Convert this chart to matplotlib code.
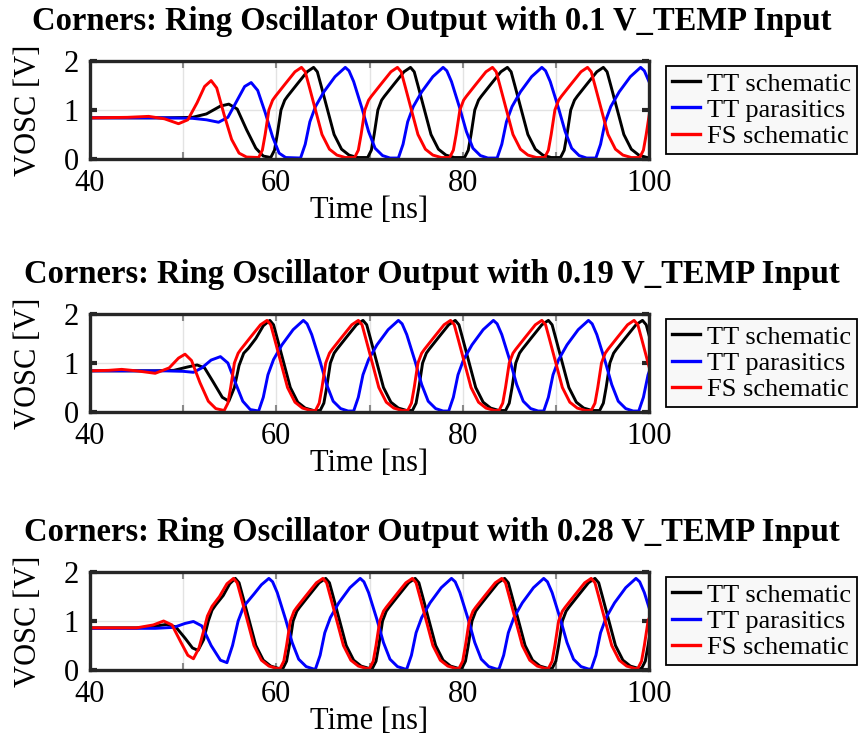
import numpy as np
import matplotlib.pyplot as plt

plt.rcParams["font.family"] = ["Liberation Serif", "DejaVu Serif"]

v_temp_inputs = ["0.1", "0.19", "0.28"]
series_labels = ["TT schematic", "TT parasitics", "FS schematic"]
series_colors = ["black", "blue", "red"]
x_ticks = [40, 50, 60, 70, 80, 90, 100]
x_tick_labels = ["40", "", "60", "", "80", "", "100"]
y_ticks = [0, 1, 2]

# (time [ns], VOSC [V])

# 0.1 V_TEMP
p1_tt_schematic = [
    (40.0, 0.84), (48.0, 0.84), (51.0, 0.85), (52.5, 0.92), (54.0, 1.08), (54.9, 1.12), (55.8, 1.02),
    (56.8, 0.60), (57.8, 0.22), (58.6, 0.06),
    (59.4, 0.03), (59.8, 0.18), (60.1, 0.5), (60.5, 1.0), (60.9, 1.2), (61.2, 1.28), (62.2, 1.52), (63.3, 1.78),
    (64.0, 1.87), (64.4, 1.78), (64.8, 1.5), (65.5, 1.0), (66.2, 0.5), (67.0, 0.2), (67.8, 0.08), (68.7, 0.03),
    (69.8, 0.03), (70.2, 0.18), (70.5, 0.5), (70.9, 1.0), (71.3, 1.2), (71.6, 1.28), (72.6, 1.52), (73.7, 1.78),
    (74.4, 1.87), (74.8, 1.78), (75.2, 1.5), (75.9, 1.0), (76.6, 0.5), (77.4, 0.2), (78.2, 0.08), (79.1, 0.03),
    (80.2, 0.03), (80.6, 0.18), (80.9, 0.5), (81.3, 1.0), (81.7, 1.2), (82.0, 1.28), (83.0, 1.52), (84.1, 1.78),
    (84.8, 1.87), (85.2, 1.78), (85.6, 1.5), (86.3, 1.0), (87.0, 0.5), (87.8, 0.2), (88.6, 0.08), (89.5, 0.03),
    (90.5, 0.03), (90.9, 0.18), (91.2, 0.5), (91.6, 1.0), (92.0, 1.2), (92.3, 1.28), (93.3, 1.52), (94.4, 1.78),
    (95.1, 1.87), (95.5, 1.78), (95.9, 1.5), (96.6, 1.0), (97.3, 0.5), (98.1, 0.2), (98.9, 0.08), (99.8, 0.03),
    (100.0, 0.03),
]
p1_tt_parasitics = [
    (40.0, 0.84), (48.0, 0.84), (51.0, 0.83), (52.5, 0.80), (53.8, 0.75), (54.8, 0.85), (55.8, 1.2),
    (56.6, 1.48), (57.3, 1.56), (58.0, 1.4), (58.8, 0.95), (59.6, 0.45), (60.3, 0.12), (61.0, 0.03),
    (62.6, 0.02), (63.1, 0.3), (63.6, 0.76), (64.2, 1.07), (65.1, 1.37), (66.3, 1.68), (67.4, 1.87),
    (67.8, 1.8), (68.3, 1.58), (69.2, 1.03), (69.9, 0.56), (70.6, 0.22), (71.4, 0.07), (72.2, 0.02),
    (73.1, 0.02), (73.6, 0.3), (74.1, 0.76), (74.7, 1.07), (75.6, 1.37), (76.8, 1.68), (77.9, 1.87),
    (78.3, 1.8), (78.8, 1.58), (79.7, 1.03), (80.4, 0.56), (81.1, 0.22), (81.9, 0.07), (82.7, 0.02),
    (83.7, 0.02), (84.2, 0.3), (84.7, 0.76), (85.3, 1.07), (86.2, 1.37), (87.4, 1.68), (88.5, 1.87),
    (88.9, 1.8), (89.4, 1.58), (90.3, 1.03), (91.0, 0.56), (91.7, 0.22), (92.5, 0.07), (93.3, 0.02),
    (94.3, 0.02), (94.8, 0.3), (95.3, 0.76), (95.9, 1.07), (96.8, 1.37), (98.0, 1.68), (99.1, 1.87),
    (99.5, 1.8), (100.0, 1.58),
]
p1_fs_schematic = [
    (40.0, 0.84), (44.0, 0.85), (46.3, 0.87), (48.0, 0.82), (49.5, 0.72), (50.5, 0.80), (51.5, 1.15),
    (52.3, 1.48), (53.0, 1.60), (53.6, 1.45), (54.4, 0.90), (55.2, 0.40), (56.0, 0.12), (56.8, 0.04),
    (58.1, 0.03), (58.5, 0.18), (58.8, 0.5), (59.2, 1.0), (59.6, 1.2), (59.9, 1.28), (60.9, 1.52), (62.0, 1.78),
    (62.7, 1.87), (63.1, 1.78), (63.5, 1.5), (64.2, 1.0), (64.9, 0.5), (65.7, 0.2), (66.5, 0.08), (67.4, 0.03),
    (68.4, 0.03), (68.8, 0.18), (69.1, 0.5), (69.5, 1.0), (69.9, 1.2), (70.2, 1.28), (71.2, 1.52), (72.3, 1.78),
    (73.0, 1.87), (73.4, 1.78), (73.8, 1.5), (74.5, 1.0), (75.2, 0.5), (76.0, 0.2), (76.8, 0.08), (77.7, 0.03),
    (78.6, 0.03), (79.0, 0.18), (79.3, 0.5), (79.7, 1.0), (80.1, 1.2), (80.4, 1.28), (81.4, 1.52), (82.5, 1.78),
    (83.2, 1.87), (83.6, 1.78), (84.0, 1.5), (84.7, 1.0), (85.4, 0.5), (86.2, 0.2), (87.0, 0.08), (87.9, 0.03),
    (88.8, 0.03), (89.2, 0.18), (89.5, 0.5), (89.9, 1.0), (90.3, 1.2), (90.6, 1.28), (91.6, 1.52), (92.7, 1.78),
    (93.4, 1.87), (93.8, 1.78), (94.2, 1.5), (94.9, 1.0), (95.6, 0.5), (96.4, 0.2), (97.2, 0.08), (98.1, 0.03),
    (99.0, 0.03), (99.4, 0.18), (99.7, 0.5), (100.1, 1.0),
]

# 0.19 V_TEMP
p2_tt_schematic = [
    (40.0, 0.84), (47.0, 0.84), (49.0, 0.85), (50.5, 0.92), (51.5, 0.96), (52.3, 0.90), (53.2, 0.62),
    (54.2, 0.30), (54.9, 0.22), (55.5, 0.5), (56.0, 0.95), (56.5, 1.2), (57.0, 1.3), (57.8, 1.5), (58.6, 1.76),
    (59.3, 1.87), (59.7, 1.78), (60.1, 1.5), (60.8, 1.0), (61.5, 0.5), (62.3, 0.2), (63.1, 0.08), (64.0, 0.03),
    (64.7, 0.03), (65.1, 0.18), (65.4, 0.5), (65.8, 1.0), (66.2, 1.2), (66.5, 1.28), (67.5, 1.52), (68.6, 1.78),
    (69.3, 1.87), (69.7, 1.78), (70.1, 1.5), (70.8, 1.0), (71.5, 0.5), (72.3, 0.2), (73.1, 0.08), (74.0, 0.03),
    (74.6, 0.03), (75.0, 0.18), (75.3, 0.5), (75.7, 1.0), (76.1, 1.2), (76.4, 1.28), (77.4, 1.52), (78.5, 1.78),
    (79.2, 1.87), (79.6, 1.78), (80.0, 1.5), (80.7, 1.0), (81.4, 0.5), (82.2, 0.2), (83.0, 0.08), (83.9, 0.03),
    (84.6, 0.03), (85.0, 0.18), (85.3, 0.5), (85.7, 1.0), (86.1, 1.2), (86.4, 1.28), (87.4, 1.52), (88.5, 1.78),
    (89.2, 1.87), (89.6, 1.78), (90.0, 1.5), (90.7, 1.0), (91.4, 0.5), (92.2, 0.2), (93.0, 0.08), (93.9, 0.03),
    (94.7, 0.03), (95.1, 0.18), (95.4, 0.5), (95.8, 1.0), (96.2, 1.2), (96.5, 1.28), (97.5, 1.52), (98.6, 1.78),
    (99.3, 1.87), (99.7, 1.78), (100.1, 1.5),
]
p2_tt_parasitics = [
    (40.0, 0.84), (48.0, 0.84), (50.0, 0.83), (51.1, 0.81), (52.0, 0.90), (53.0, 1.06), (54.0, 1.13),
    (54.8, 1.00), (55.6, 0.60), (56.4, 0.22), (57.2, 0.05),
    (58.1, 0.02), (58.6, 0.3), (59.1, 0.76), (59.7, 1.07), (60.6, 1.37), (61.8, 1.68), (62.9, 1.87),
    (63.3, 1.8), (63.8, 1.58), (64.7, 1.03), (65.4, 0.56), (66.1, 0.22), (66.9, 0.07), (67.7, 0.02),
    (68.3, 0.02), (68.8, 0.3), (69.3, 0.76), (69.9, 1.07), (70.8, 1.37), (72.0, 1.68), (73.1, 1.87),
    (73.5, 1.8), (74.0, 1.58), (74.9, 1.03), (75.6, 0.56), (76.3, 0.22), (77.1, 0.07), (77.9, 0.02),
    (78.5, 0.02), (79.0, 0.3), (79.5, 0.76), (80.1, 1.07), (81.0, 1.37), (82.2, 1.68), (83.3, 1.87),
    (83.7, 1.8), (84.2, 1.58), (85.1, 1.03), (85.8, 0.56), (86.5, 0.22), (87.3, 0.07), (88.1, 0.02),
    (88.7, 0.02), (89.2, 0.3), (89.7, 0.76), (90.3, 1.07), (91.2, 1.37), (92.4, 1.68), (93.5, 1.87),
    (93.9, 1.8), (94.4, 1.58), (95.3, 1.03), (96.0, 0.56), (96.7, 0.22), (97.5, 0.07), (98.3, 0.02),
    (98.9, 0.02), (99.4, 0.3), (99.9, 0.76), (100.5, 1.07),
]
p2_fs_schematic = [
    (40.0, 0.84), (42.0, 0.85), (43.4, 0.87), (45.0, 0.84), (47.0, 0.79), (48.5, 0.90), (49.5, 1.10),
    (50.2, 1.18), (50.9, 1.05), (51.8, 0.60), (52.7, 0.22), (53.5, 0.07),
    (54.4, 0.03), (54.8, 0.18), (55.1, 0.5), (55.5, 1.0), (55.9, 1.2), (56.2, 1.28), (57.2, 1.52), (58.3, 1.78),
    (59.0, 1.87), (59.4, 1.78), (59.8, 1.5), (60.5, 1.0), (61.2, 0.5), (62.0, 0.2), (62.8, 0.08), (63.7, 0.03),
    (64.2, 0.03), (64.6, 0.18), (64.9, 0.5), (65.3, 1.0), (65.7, 1.2), (66.0, 1.28), (67.0, 1.52), (68.1, 1.78),
    (68.8, 1.87), (69.2, 1.78), (69.6, 1.5), (70.3, 1.0), (71.0, 0.5), (71.8, 0.2), (72.6, 0.08), (73.5, 0.03),
    (74.1, 0.03), (74.5, 0.18), (74.8, 0.5), (75.2, 1.0), (75.6, 1.2), (75.9, 1.28), (76.9, 1.52), (78.0, 1.78),
    (78.7, 1.87), (79.1, 1.78), (79.5, 1.5), (80.2, 1.0), (80.9, 0.5), (81.7, 0.2), (82.5, 0.08), (83.4, 0.03),
    (83.9, 0.03), (84.3, 0.18), (84.6, 0.5), (85.0, 1.0), (85.4, 1.2), (85.7, 1.28), (86.7, 1.52), (87.8, 1.78),
    (88.5, 1.87), (88.9, 1.78), (89.3, 1.5), (90.0, 1.0), (90.7, 0.5), (91.5, 0.2), (92.3, 0.08), (93.2, 0.03),
    (93.8, 0.03), (94.2, 0.18), (94.5, 0.5), (94.9, 1.0), (95.3, 1.2), (95.6, 1.28), (96.6, 1.52), (97.7, 1.78),
    (98.4, 1.87), (98.8, 1.78), (99.2, 1.5), (99.9, 1.0), (100.6, 0.5),
]

# 0.28 V_TEMP
p3_tt_schematic = [
    (40.0, 0.86), (45.0, 0.86), (46.5, 0.88), (48.2, 0.93), (49.2, 0.88), (50.2, 0.65), (51.0, 0.45),
    (51.6, 0.40), (52.2, 0.62), (52.7, 1.0), (53.1, 1.22), (53.5, 1.33), (54.3, 1.52), (55.0, 1.76),
    (55.6, 1.87), (56.0, 1.78), (56.4, 1.5), (57.1, 1.0), (57.8, 0.5), (58.6, 0.2), (59.4, 0.08), (60.3, 0.03),
    (60.7, 0.03), (61.1, 0.18), (61.4, 0.5), (61.8, 1.0), (62.2, 1.2), (62.5, 1.28), (63.5, 1.52), (64.6, 1.78),
    (65.3, 1.87), (65.7, 1.78), (66.1, 1.5), (66.8, 1.0), (67.5, 0.5), (68.3, 0.2), (69.1, 0.08), (70.0, 0.03),
    (70.3, 0.03), (70.7, 0.18), (71.0, 0.5), (71.4, 1.0), (71.8, 1.2), (72.1, 1.28), (73.1, 1.52), (74.2, 1.78),
    (74.9, 1.87), (75.3, 1.78), (75.7, 1.5), (76.4, 1.0), (77.1, 0.5), (77.9, 0.2), (78.7, 0.08), (79.6, 0.03),
    (79.9, 0.03), (80.3, 0.18), (80.6, 0.5), (81.0, 1.0), (81.4, 1.2), (81.7, 1.28), (82.7, 1.52), (83.8, 1.78),
    (84.5, 1.87), (84.9, 1.78), (85.3, 1.5), (86.0, 1.0), (86.7, 0.5), (87.5, 0.2), (88.3, 0.08), (89.2, 0.03),
    (89.6, 0.03), (90.0, 0.18), (90.3, 0.5), (90.7, 1.0), (91.1, 1.2), (91.4, 1.28), (92.4, 1.52), (93.5, 1.78),
    (94.2, 1.87), (94.6, 1.78), (95.0, 1.5), (95.7, 1.0), (96.4, 0.5), (97.2, 0.2), (98.0, 0.08), (98.9, 0.03),
    (99.2, 0.03), (99.6, 0.18), (99.9, 0.5), (100.3, 1.0),
]
p3_tt_parasitics = [
    (40.0, 0.85), (47.0, 0.85), (49.0, 0.87), (50.2, 0.95), (51.1, 0.99), (52.0, 0.90), (53.0, 0.50),
    (54.0, 0.20), (54.7, 0.15), (55.3, 0.5), (55.9, 1.0), (56.5, 1.3), (57.6, 1.55), (58.4, 1.74),
    (59.2, 1.87), (59.6, 1.8), (60.1, 1.58), (61.0, 1.03), (61.7, 0.56), (62.4, 0.22), (63.2, 0.07), (64.0, 0.02),
    (64.2, 0.02), (64.7, 0.3), (65.2, 0.76), (65.8, 1.07), (66.7, 1.37), (67.9, 1.68), (69.0, 1.87),
    (69.4, 1.8), (69.9, 1.58), (70.8, 1.03), (71.5, 0.56), (72.2, 0.22), (73.0, 0.07), (73.8, 0.02),
    (74.0, 0.02), (74.5, 0.3), (75.0, 0.76), (75.6, 1.07), (76.5, 1.37), (77.7, 1.68), (78.8, 1.87),
    (79.2, 1.8), (79.7, 1.58), (80.6, 1.03), (81.3, 0.56), (82.0, 0.22), (82.8, 0.07), (83.6, 0.02),
    (83.9, 0.02), (84.4, 0.3), (84.9, 0.76), (85.5, 1.07), (86.4, 1.37), (87.6, 1.68), (88.7, 1.87),
    (89.1, 1.8), (89.6, 1.58), (90.5, 1.03), (91.2, 0.56), (91.9, 0.22), (92.7, 0.07), (93.5, 0.02),
    (93.8, 0.02), (94.3, 0.3), (94.8, 0.76), (95.4, 1.07), (96.3, 1.37), (97.5, 1.68), (98.6, 1.87),
    (99.0, 1.8), (99.5, 1.58), (100.4, 1.03),
]
p3_fs_schematic = [
    (40.0, 0.86), (45.0, 0.86), (46.8, 0.92), (47.9, 1.00), (48.8, 0.92), (49.8, 0.55), (50.5, 0.30),
    (51.1, 0.23), (51.7, 0.45), (52.2, 0.8), (52.6, 1.1), (53.1, 1.3), (53.9, 1.5), (54.7, 1.76),
    (55.4, 1.87), (55.8, 1.78), (56.2, 1.5), (56.9, 1.0), (57.6, 0.5), (58.4, 0.2), (59.2, 0.08), (60.1, 0.03),
    (60.4, 0.03), (60.8, 0.18), (61.1, 0.5), (61.5, 1.0), (61.9, 1.2), (62.2, 1.28), (63.2, 1.52), (64.3, 1.78),
    (65.0, 1.87), (65.4, 1.78), (65.8, 1.5), (66.5, 1.0), (67.2, 0.5), (68.0, 0.2), (68.8, 0.08), (69.7, 0.03),
    (70.0, 0.03), (70.4, 0.18), (70.7, 0.5), (71.1, 1.0), (71.5, 1.2), (71.8, 1.28), (72.8, 1.52), (73.9, 1.78),
    (74.6, 1.87), (75.0, 1.78), (75.4, 1.5), (76.1, 1.0), (76.8, 0.5), (77.6, 0.2), (78.4, 0.08), (79.3, 0.03),
    (79.6, 0.03), (80.0, 0.18), (80.3, 0.5), (80.7, 1.0), (81.1, 1.2), (81.4, 1.28), (82.4, 1.52), (83.5, 1.78),
    (84.2, 1.87), (84.6, 1.78), (85.0, 1.5), (85.7, 1.0), (86.4, 0.5), (87.2, 0.2), (88.0, 0.08), (88.9, 0.03),
    (89.2, 0.03), (89.6, 0.18), (89.9, 0.5), (90.3, 1.0), (90.7, 1.2), (91.0, 1.28), (92.0, 1.52), (93.1, 1.78),
    (93.8, 1.87), (94.2, 1.78), (94.6, 1.5), (95.3, 1.0), (96.0, 0.5), (96.8, 0.2), (97.6, 0.08), (98.5, 0.03),
    (98.8, 0.03), (99.2, 0.18), (99.5, 0.5), (99.9, 1.0), (100.3, 1.2),
]

panels = [
    (p1_tt_schematic, p1_tt_parasitics, p1_fs_schematic),
    (p2_tt_schematic, p2_tt_parasitics, p2_fs_schematic),
    (p3_tt_schematic, p3_tt_parasitics, p3_fs_schematic),
]

W, H = 863, 738
fig = plt.figure(figsize=(W / 100, H / 100), dpi=100)

# axes box in pixels: left, top, right, height
ax_tops = [61, 314, 572]
ax_left, ax_right, ax_h = 90, 649, 98
frame_color = "#262626"

for i, (series, vtemp) in enumerate(zip(panels, v_temp_inputs)):
    top = ax_tops[i]
    ax = fig.add_axes([ax_left / W, 1 - (top + ax_h) / H, (ax_right - ax_left) / W, ax_h / H])
    for pts, label, color in zip(series, series_labels, series_colors):
        arr = np.array(pts)
        ax.plot(arr[:, 0], arr[:, 1], color=color, lw=2.1, label=label, solid_joinstyle="round")

    ax.set_xlim(40, 100)
    ax.set_ylim(0, 2)
    ax.set_xticks(x_ticks)
    ax.set_xticklabels(x_tick_labels)
    ax.set_yticks(y_ticks)
    ax.grid(True, color="#e3e3e3", lw=1.0)
    ax.set_axisbelow(True)
    for sp in ax.spines.values():
        sp.set_color(frame_color)
        sp.set_linewidth(2.4)
    ax.tick_params(axis="x", direction="in", length=5, width=1.5, color="#8a8a8a",
                   top=True, labelsize=22, pad=7)
    ax.tick_params(axis="y", direction="in", length=5, width=3, color=frame_color,
                   right=True, labelsize=22, pad=8)
    ax.set_xlabel("Time [ns]", fontsize=22, labelpad=-1)
    ax.set_ylabel("VOSC [V]", fontsize=22, labelpad=15)

    leg = ax.legend(loc="center left", bbox_to_anchor=(1.03, 0.5), fontsize=19,
                    handlelength=1.05, handletextpad=0.25, labelspacing=0.1,
                    borderpad=0.25, borderaxespad=0, fancybox=False, framealpha=1,
                    facecolor="#f8f8f8")
    leg.get_frame().set_edgecolor("black")
    leg.get_frame().set_linewidth(1.3)
    for ln in leg.get_lines():
        ln.set_linewidth(2.4)

    fig.text(0.5, 1 - (top - 31) / H,
             f"Corners: Ring Oscillator Output with {vtemp} V_TEMP Input",
             ha="center", va="baseline", fontsize=23.5, fontweight="bold")

fig.savefig("out.png", dpi=100)
